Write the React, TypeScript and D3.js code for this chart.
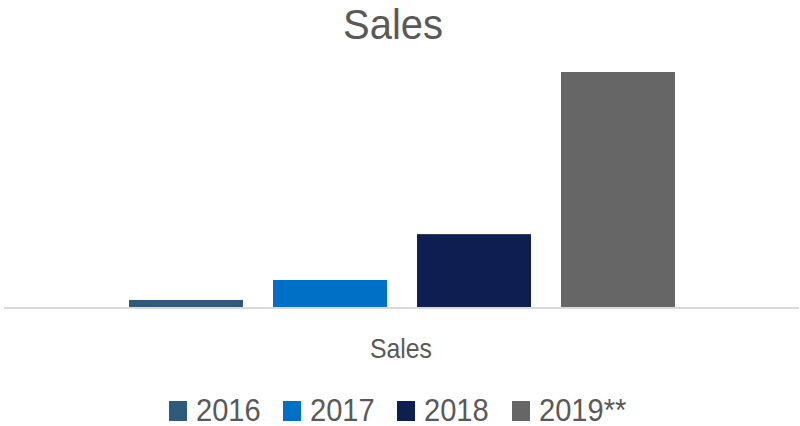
import React from "react";
import * as d3 from "d3";

const years = ["2016", "2017", "2018", "2019**"];
const sales = [30, 115, 310, 1000];
const colors = ["#2E5A7E", "#0070C6", "#0E1E50", "#666666"];
const categoryLabel = "Sales";
const title = "Sales";

const W = 800;
const H = 426;

export default function App() {
  const x = d3
    .scaleBand<string>()
    .domain(years)
    .range([114, 690])
    .paddingInner(30 / 144)
    .paddingOuter(15 / 144);
  const y = d3.scaleLinear().domain([0, 1000]).range([307, 72]);
  const font = "'Liberation Sans', Arial, sans-serif";
  const textColor = "#595959";
  const legendX = [169, 283, 397, 512];
  const sx = 0.91;

  return (
    <svg
      width={W}
      height={H}
      style={{ position: "absolute", left: 0, top: 0, background: "#fff" }}
    >
      <text
        x={393}
        y={39}
        textAnchor="middle"
        fontFamily={font}
        fontSize={43}
        fill={textColor}
        textLength={100}
        lengthAdjust="spacingAndGlyphs"
      >
        {title}
      </text>
      {years.map((yr, i) => (
        <rect
          key={yr}
          x={x(yr)}
          y={y(sales[i])}
          width={x.bandwidth()}
          height={y(0) - y(sales[i])}
          fill={colors[i]}
        />
      ))}
      <line x1={4} x2={799} y1={308} y2={308} stroke="#d9d9d9" strokeWidth={2} />
      <text
        x={401}
        y={358}
        textAnchor="middle"
        fontFamily={font}
        fontSize={28}
        fill={textColor}
        textLength={62}
        lengthAdjust="spacingAndGlyphs"
      >
        {categoryLabel}
      </text>
      {years.map((yr, i) => (
        <g key={"lg" + yr}>
          <rect x={legendX[i]} y={401} width={18} height={20} fill={colors[i]} />
          <g transform={`translate(${legendX[i] + 27},420.5) scale(${sx},1)`}>
            <text x={0} y={0} fontFamily={font} fontSize={32} fill={textColor}>
              {yr}
            </text>
          </g>
        </g>
      ))}
    </svg>
  );
}
